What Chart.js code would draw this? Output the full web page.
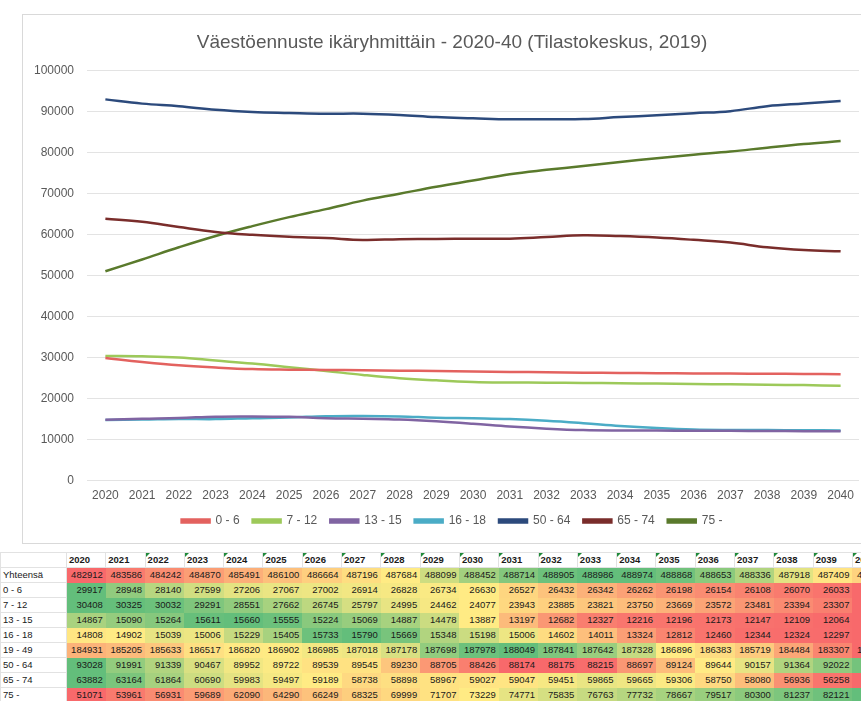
<!DOCTYPE html>
<html>
<head>
<meta charset="utf-8">
<script src="https://cdn.jsdelivr.net/npm/chart.js@4.4.1/dist/chart.umd.min.js"></script>
<style>
  html, body { margin: 0; padding: 0; background: #fff; overflow: hidden; }
  #chartBox {
    position: absolute; left: 22px; top: 14px;
    width: 858px; height: 528px;
    border: 1px solid #d9d9d9;
  }
  #tableBox {
    position: absolute; left: 0; top: 552px; width: 900px; height: 149px; overflow: hidden;
  }
  table {
    border-collapse: collapse; table-layout: fixed;
    font-family: "Liberation Sans Narrow", "Liberation Sans", Arial, sans-serif;
    font-size: 9.5px; color: #1a1a1a;
  }
  td { height: 14px; padding: 0 3px 0 2px; white-space: nowrap; overflow: hidden; line-height: 14px; }
  td.lbl { border: 1px solid #e2e2e2; text-align: left; background: #fff; }
  td.head { border: 1px solid #e2e2e2; text-align: left; background: #fff; font-weight: bold; position: relative; }
  td.head.flag::before {
    content: ""; position: absolute; left: 0; top: 0;
    border-top: 4px solid #1f8a3a; border-right: 4px solid transparent;
  }
  td.num { text-align: right; border: none; }
</style>
</head>
<body>
<div id="chartBox"><canvas id="popChart" width="858" height="528"></canvas></div>
<div id="tableBox"><table id="popTable"></table></div>
<script>
// Years (x-axis categories and table columns)
const years = ['2020','2021','2022','2023','2024','2025','2026','2027','2028','2029','2030',
               '2031','2032','2033','2034','2035','2036','2037','2038','2039','2040'];

// Population by age group (Tilastokeskus 2019 forecast); 2040 column is cut off in the picture, estimated from the chart
const total   = [482912,483586,484242,484870,485491,486100,486664,487196,487684,488099,488452,488714,488905,488986,488974,488868,488653,488336,487918,487409,486800];
const age0_6  = [29917,28948,28140,27599,27206,27067,27002,26914,26828,26734,26630,26527,26432,26342,26262,26198,26154,26108,26070,26033,25980];
const age7_12 = [30408,30325,30032,29291,28551,27662,26745,25797,24995,24462,24077,23943,23885,23821,23750,23669,23572,23481,23394,23307,23150];
const age13_15 = [14867,15090,15264,15611,15660,15555,15224,15069,14887,14478,13887,13197,12682,12327,12216,12196,12173,12147,12109,12064,12030];
const age16_18 = [14808,14902,15039,15006,15229,15405,15733,15790,15669,15348,15198,15006,14602,14011,13324,12812,12460,12344,12324,12297,12240];
const age19_49 = [184931,185205,185633,186517,186820,186902,186985,187018,187178,187698,187978,188049,187841,187642,187328,186896,186383,185719,184484,183307,182300];
const age50_64 = [93028,91991,91339,90467,89952,89722,89539,89545,89230,88705,88426,88174,88175,88215,88697,89124,89644,90157,91364,92022,92650];
const age65_74 = [63882,63164,61864,60690,59983,59497,59189,58738,58898,58967,59027,59047,59451,59865,59665,59306,58750,58080,56936,56258,55950];
const age75    = [51071,53961,56931,59689,62090,64290,66249,68325,69999,71707,73229,74771,75835,76763,77732,78667,79517,80300,81237,82121,82850];

const yTicks = [0,10000,20000,30000,40000,50000,60000,70000,80000,90000,100000];

const series = [
    { label: '0 - 6',   data: age0_6,   color: '#E3625F' },
    { label: '7 - 12',  data: age7_12,  color: '#9DC95A' },
    { label: '13 - 15', data: age13_15, color: '#8064A2' },
    { label: '16 - 18', data: age16_18, color: '#4BACC6' },
    { label: '50 - 64', data: age50_64, color: '#2C4A7C' },
    { label: '65 - 74', data: age65_74, color: '#7A2D2B' },
    { label: '75 -',    data: age75,    color: '#5A7A2C' }
];

const FONT = 'Liberation Sans, Arial, sans-serif';
const LEGEND_SHIFT = 9;

// legend takes less room in the layout, then is drawn a bit higher
const legendFit = {
    id: 'legendFit',
    beforeInit(chart) {
        const origFit = chart.legend.fit;
        chart.legend.fit = function () {
            origFit.bind(chart.legend)();
            this.height -= LEGEND_SHIFT;
        };
    },
    afterLayout(chart) {
        chart.legend.top -= LEGEND_SHIFT;
        chart.legend.bottom -= LEGEND_SHIFT;
    }
};

const ctx = document.getElementById('popChart').getContext('2d');
new Chart(ctx, {
    type: 'line',
    data: {
        labels: years,
        datasets: series.map(s => ({
            label: s.label,
            data: s.data,
            borderColor: s.color,
            backgroundColor: s.color,
            borderWidth: 2.5,
            pointRadius: 0,
            tension: 0.4,
            fill: false
        }))
    },
    plugins: [legendFit],
    options: {
        responsive: false,
        animation: false,
        layout: { padding: { left: 0, right: 0, top: 0, bottom: 6 } },
        plugins: {
            title: {
                display: true,
                text: 'Väestöennuste ikäryhmittäin - 2020-40 (Tilastokeskus, 2019)',
                color: '#595959',
                font: { family: FONT, size: 19, weight: 'normal' },
                padding: { top: 16, bottom: 17 }
            },
            legend: {
                position: 'bottom',
                labels: {
                    color: '#595959',
                    font: { family: FONT, size: 12 },
                    boxWidth: 28,
                    boxHeight: 3,
                    padding: 13
                }
            },
            tooltip: { enabled: false }
        },
        scales: {
            x: {
                type: 'category',
                offset: true,
                grid: { display: false, drawTicks: false },
                border: { display: false },
                ticks: {
                    color: '#595959',
                    font: { family: FONT, size: 12 },
                    maxRotation: 0,
                    autoSkip: false,
                    padding: 8
                }
            },
            y: {
                min: 0,
                max: 100000,
                afterBuildTicks: scale => { scale.ticks = yTicks.map(v => ({ value: v })); },
                afterFit: scale => { scale.width = 64; },
                grid: { color: '#e3e3e3', drawTicks: false },
                border: { display: false },
                ticks: {
                    color: '#595959',
                    font: { family: FONT, size: 12 },
                    padding: 13,
                    callback: v => String(v)
                }
            },
            // empty right axis, only keeps the plot area off the right edge
            yRight: {
                position: 'right',
                min: 0,
                max: 100000,
                afterFit: scale => { scale.width = 22; },
                grid: { display: false, drawTicks: false },
                border: { display: false },
                ticks: { display: false }
            }
        }
    }
});

// Heat-map table below the chart (Excel style 3-colour scale per row)
const tableRows = [
    ['Yhteensä', total], ['0 - 6', age0_6], ['7 - 12', age7_12], ['13 - 15', age13_15],
    ['16 - 18', age16_18], ['19 - 49', age19_49], ['50 - 64', age50_64],
    ['65 - 74', age65_74], ['75 -', age75]
];

function mix(a, b, t) {
    return a.map((v, i) => Math.round(v + (b[i] - v) * t));
}
const RED = [248, 105, 107], YEL = [255, 235, 132], GRN = [99, 190, 123];

function cellColor(v, arr) {
    const sorted = [...arr].sort((a, b) => a - b);
    const min = sorted[0], max = sorted[sorted.length - 1];
    const mid = sorted[Math.floor(sorted.length / 2)];
    let c;
    if (v <= mid) c = mix(RED, YEL, mid === min ? 1 : (v - min) / (mid - min));
    else c = mix(YEL, GRN, (v - mid) / (max - mid));
    return 'rgb(' + c.join(',') + ')';
}

const table = document.getElementById('popTable');
let html = '<colgroup><col style="width:66px">';
years.forEach(() => { html += '<col style="width:39.3px">'; });
html += '</colgroup><tr><td class="lbl"></td>';
years.forEach((y, i) => { html += '<td class="head' + (i >= 2 ? ' flag' : '') + '">' + y + '</td>'; });
html += '</tr>';
tableRows.forEach(([name, vals]) => {
    html += '<tr><td class="lbl">' + name + '</td>';
    vals.forEach(v => {
        html += '<td class="num" style="background:' + cellColor(v, vals) + '">' + v + '</td>';
    });
    html += '</tr>';
});
table.innerHTML = html;
</script>
</body>
</html>
